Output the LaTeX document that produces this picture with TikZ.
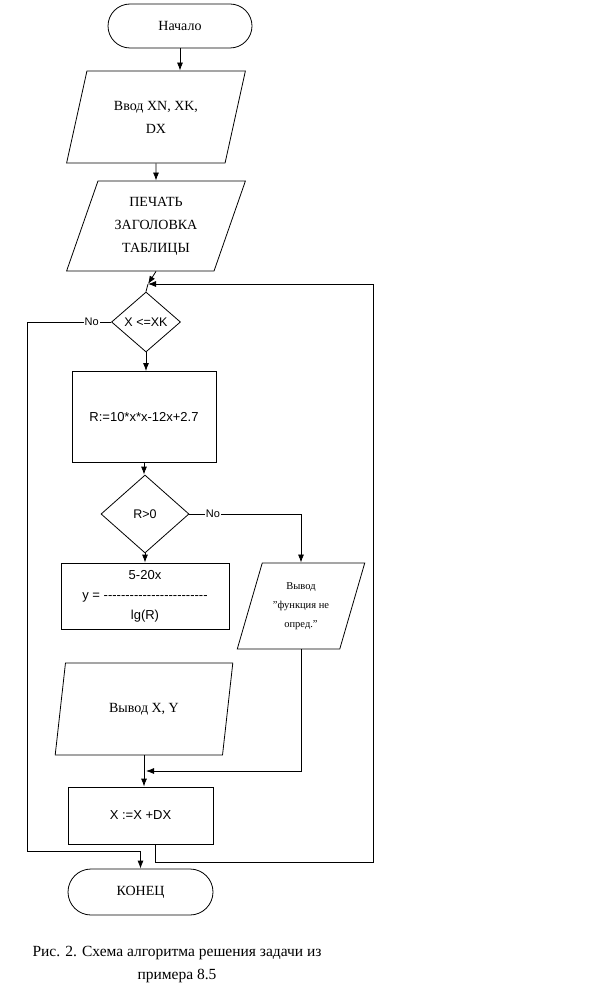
\documentclass[tikz,border=0pt]{standalone}
\usepackage{fontspec}
\setmainfont{Liberation Serif}
\setsansfont{Liberation Sans}
\usetikzlibrary{shapes.geometric,arrows.meta}
\newcommand{\dashrow}[1]{\foreach \i in {1,...,#1}{-\kern0pt}}

\begin{document}
\begin{tikzpicture}[x=1pt, y=-1pt, line width=0.8pt,
    every node/.style={font=\fontsize{14}{23}\selectfont},
    term/.style={draw, rounded corners=22pt, minimum width=144pt, minimum height=44pt},
    io/.style={draw, trapezium, trapezium left angle=69, trapezium right angle=111, trapezium stretches=true, minimum width=179pt, minimum height=92pt, align=center, inner sep=0pt},
    proc/.style={draw, minimum width=144pt, minimum height=91pt, align=center, font=\sffamily\fontsize{13}{20}\selectfont},
    cond/.style={draw, diamond, inner sep=0pt, font=\sffamily\fontsize{12.5}{15}\selectfont},
    lbl/.style={fill=white, inner sep=1pt, font=\sffamily\fontsize{11}{12}\selectfont},
    arrow/.style={-{Latex[length=8pt,width=6pt]}}
  ]
    \useasboundingbox (0,0) rectangle (593,995);
    \node[term] (start) at (180,26) {Начало};
    \node[io] (input) at (156,117) {Ввод XN, XK,\\DX};
    \node[io, minimum height=90pt] (print) at (156,226) {ПЕЧАТЬ\\ЗАГОЛОВКА\\ТАБЛИЦЫ};
    \coordinate (merge) at (148,284);
    \node[cond, minimum width=69pt, minimum height=60pt] (loop) at (146,322) {X <=XK};
    \node[proc] (calc) at (144,417) {R:=10*x*x-12x+2.7};
    \node[cond, minimum width=88pt, minimum height=78pt] (check) at (145,514) {R>0};
    \node[proc, minimum width=168pt, minimum height=66pt] (func) at (145,596) {5-20x\\y = \dashrow{24}\\lg(R)};
    \node[io, minimum width=128pt, minimum height=86pt, font=\fontsize{10.5}{19}\selectfont] (err) at (301,606) {Вывод\\"функция не\\опред."};
    \node[io] (out) at (144,709) {Вывод X, Y};
    \coordinate (join) at (146,771);
    \node[proc, minimum width=145pt, minimum height=57pt] (inc) at (140.5,815.5) {X :=X +DX};
    \node[term, minimum width=145pt, minimum height=46pt, rounded corners=23pt] (finish) at (140.5,892) {КОНЕЦ};
    \coordinate (left) at (27,851);
    \coordinate (right) at (373,862);
    \draw[arrow] (start.south) -- (start.south |- input.north);
    \draw[arrow] (input.south) -- (print.north);
    \draw[arrow] (print.south) -- (merge);
    \draw (merge) -- (loop.north);
    \draw[arrow] (loop.south) -- (loop.south |- calc.north);
    \draw[arrow] (calc.south) -- (calc.south |- check.north);
    \draw[arrow] (check.south) -- (check.south |- func.north);
    \draw[arrow] (check.east) -- node[lbl, pos=0.21] {No} (check.east -| err.north) -- (err.north);
    \draw[arrow] (err.south) |- (join);
    \draw[arrow] (out.south) -- (out.south |- inc.north);
    \draw[arrow] (loop.west) -- node[lbl, pos=0.23] {No} (loop.west -| left) -- (left) -| (finish.north);
    \draw[arrow] ([xshift=15pt]inc.south) |- (right) |- (merge);
    \node[align=center, font=\fontsize{15.5}{23}\selectfont] (caption) at (177,965) {Рис. 2. Схема алгоритма решения задачи из\\примера 8.5};
  \end{tikzpicture}
\end{document}
